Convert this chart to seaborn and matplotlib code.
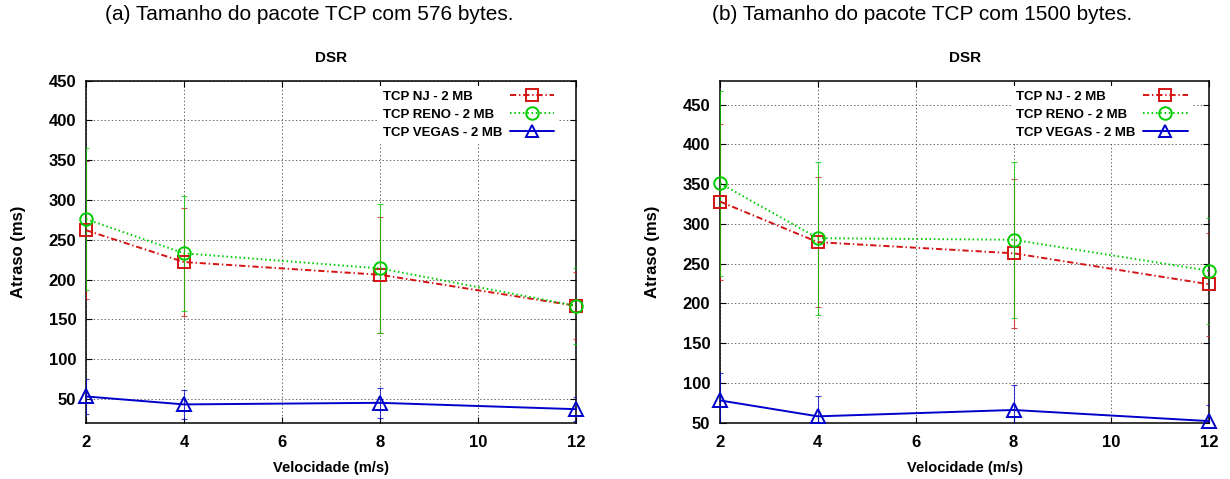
import matplotlib
matplotlib.use("Agg")
import matplotlib.pyplot as plt
from matplotlib.lines import Line2D
import seaborn as sns

# Node speed (m/s)
speeds = [2, 4, 8, 12]
series_names = ["TCP NJ - 2 MB", "TCP RENO - 2 MB", "TCP VEGAS - 2 MB"]

# Mean delay (ms) and error half-widths, 576-byte TCP packets
nj_576 = [262, 222, 206, 167]
nj_576_err = [87, 68, 73, 42]
reno_576 = [276, 233, 214, 167]
reno_576_err = [89, 72, 81, 48]
vegas_576 = [53, 43, 45, 37]
vegas_576_err = [22, 18, 19, 15]

# Mean delay (ms) and error half-widths, 1500-byte TCP packets
nj_1500 = [328, 277, 263, 224]
nj_1500_err = [98, 82, 94, 65]
reno_1500 = [351, 282, 280, 241]
reno_1500_err = [116, 96, 98, 67]
vegas_1500 = [78, 58, 66, 52]
vegas_1500_err = [35, 25, 32, 20]

panel_titles = ["(a) Tamanho do pacote TCP com 576 bytes.",
                "(b) Tamanho do pacote TCP com 1500 bytes."]
x_ticks = [2, 4, 6, 8, 10, 12]
y_ticks = [50, 100, 150, 200, 250, 300, 350, 400, 450]

sns.set_theme(style="ticks")
plt.rcParams["font.family"] = ["Liberation Sans", "DejaVu Sans"]
plt.rcParams["font.weight"] = "bold"
plt.rcParams["lines.scale_dashes"] = False
plt.rcParams["text.color"] = "black"
plt.rcParams["axes.labelcolor"] = "black"
plt.rcParams["xtick.color"] = "black"
plt.rcParams["ytick.color"] = "black"

colors = ["#d41414", "#00cc00", "#0000cc"]
markers = ["s", "o", "^"]
styles = [(0, (4.5, 2, 1, 2)), (0, (1.1, 2.0)), "-"]

fig = plt.figure(figsize=(12.3, 4.79), dpi=100)
W, H = 1230.0, 479.0


def draw_panel(rect_px, means, errs, ylim, title, title_x):
    x0, y0, w, h = rect_px
    ax = fig.add_axes([x0 / W, 1 - (y0 + h) / H, w / W, h / H])
    for vals, err, c, m, ls in zip(means, errs, colors, markers, styles):
        ax.errorbar(speeds, vals, yerr=err, fmt="none", ecolor=c,
                    elinewidth=0.8, capsize=2.5, capthick=0.8, alpha=0.75,
                    zorder=3)
        sns.lineplot(x=speeds, y=vals, ax=ax, color=c, marker=m,
                     markersize=9 if m != "^" else 9.5,
                     markerfacecolor="none", markeredgecolor=c,
                     markeredgewidth=1.4, linestyle=ls, linewidth=1.4,
                     clip_on=False, legend=False, zorder=4)
    ax.set_xlim(2, 12)
    ax.set_ylim(*ylim)
    ax.set_xticks(x_ticks)
    ax.set_yticks(y_ticks)
    ax.set_axisbelow(True)
    ax.grid(True, color="0.3", linestyle=(0, (1, 1.6)), linewidth=0.6)
    for sp in ax.spines.values():
        sp.set_visible(True)
        sp.set_color("black")
        sp.set_linewidth(1.1)
    ax.tick_params(direction="in", length=4, width=0.8, top=True, right=True,
                   labelsize=12, colors="black")
    ax.tick_params(axis="x", pad=8.5)
    ax.tick_params(axis="y", pad=7)
    ax.set_xlabel("Velocidade (m/s)", fontsize=10.5, fontweight="bold",
                  va="center", color="black")
    ax.set_ylabel("Atraso (ms)", fontsize=12, fontweight="bold",
                  va="center", color="black")
    ax.xaxis.set_label_coords(0.5, -45 / h)
    ax.yaxis.set_label_coords(-67 / w, 0.5)
    ax.set_title("DSR", fontsize=11, fontweight="bold", pad=13.5, color="black")

    # legend: left-aligned labels, line samples in a column to their right
    leg_font = {"size": 9.5, "weight": "bold"}
    blanks = [Line2D([], [], linestyle="none") for _ in series_names]
    leg_txt = ax.legend(blanks, series_names, loc="upper left",
                        bbox_to_anchor=(0.596, 0.984), borderaxespad=0,
                        borderpad=0.35, handlelength=0, handletextpad=0,
                        labelspacing=0.43, prop=leg_font, frameon=True,
                        fancybox=False, facecolor="white", edgecolor="none",
                        framealpha=1)
    ax.add_artist(leg_txt)
    samples = [Line2D([], [], color=c, marker=m, markersize=9,
                      markerfacecolor="none", markeredgecolor=c,
                      markeredgewidth=1.4, linestyle=ls, linewidth=1.4)
               for c, m, ls in zip(colors, markers, styles)]
    ax.legend(samples, ["", "", ""], loc="upper left",
              bbox_to_anchor=(0.855, 0.984), borderaxespad=0, borderpad=0.35,
              handlelength=3.4, handletextpad=0, labelspacing=0.43,
              prop=leg_font, frameon=True, fancybox=False,
              facecolor="white", edgecolor="none", framealpha=1)
    fig.text(title_x / W, 1 - 15 / H, title, ha="center", va="center",
             fontsize=15, fontweight="normal", color="black")
    return ax


draw_panel((86, 80.7, 490, 342),
           [nj_576, reno_576, vegas_576],
           [nj_576_err, reno_576_err, vegas_576_err], (20, 450),
           panel_titles[0], 309)
draw_panel((720, 80.7, 489.3, 342),
           [nj_1500, reno_1500, vegas_1500],
           [nj_1500_err, reno_1500_err, vegas_1500_err], (50, 480),
           panel_titles[1], 922)

fig.savefig("out.png", dpi=100)
